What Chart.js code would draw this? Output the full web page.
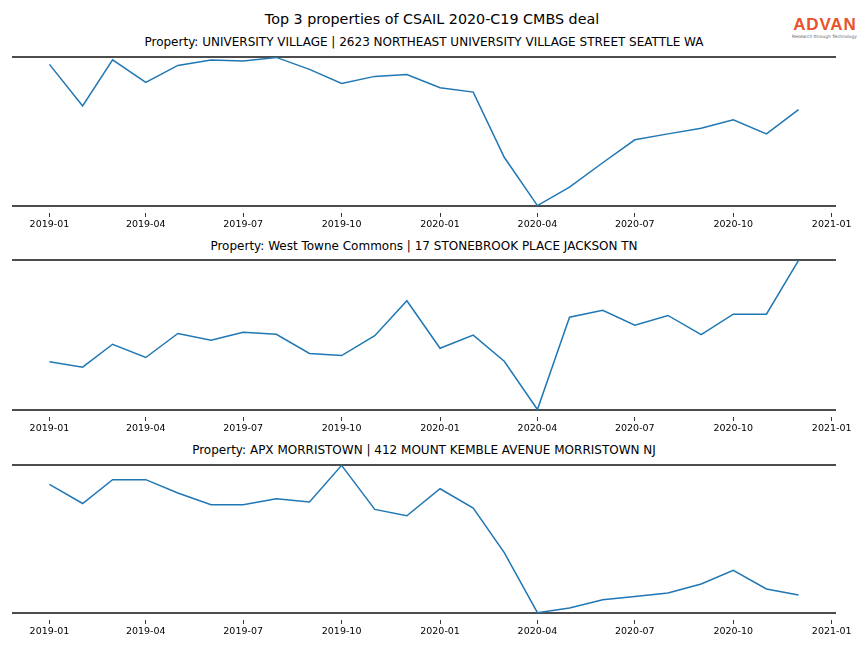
<!DOCTYPE html>
<html>
<head>
<meta charset="utf-8">
<script src="https://cdn.jsdelivr.net/npm/chart.js@4.4.0/dist/chart.umd.min.js"></script>
<style>
body { margin: 0; width: 864px; height: 648px; background: #fff; position: relative; overflow: hidden; font-family: "DejaVu Sans", sans-serif; color: #000; }
.txt { position: absolute; white-space: nowrap; transform: translate(-50%, -50%); }
canvas { position: absolute; left: 0; }
#logo { position: absolute; left: 790px; top: 16px; width: 69px; text-align: center; }
#logo .brand { font-family: "Liberation Sans", sans-serif; font-weight: bold; font-size: 17px; line-height: 18px; color: #e8542a; letter-spacing: 0.8px; margin-right: -0.8px; }
#logo .tag { font-size: 4.4px; line-height: 6px; color: #666; }
</style>
</head>
<body>
<div class="txt" style="left:432px; top:19px; font-size:14.3px;">Top 3 properties of CSAIL 2020-C19 CMBS deal</div>
<div class="txt" style="left:424px; top:42px; font-size:12px;">Property: UNIVERSITY VILLAGE | 2623 NORTHEAST UNIVERSITY VILLAGE STREET SEATTLE WA</div>
<div class="txt" style="left:424px; top:246px; font-size:12px;">Property: West Towne Commons | 17 STONEBROOK PLACE JACKSON TN</div>
<div class="txt" style="left:424px; top:450px; font-size:12px;">Property: APX MORRISTOWN | 412 MOUNT KEMBLE AVENUE MORRISTOWN NJ</div>
<div id="logo"><div class="brand">ADVAN</div><div class="tag">Research through Technology</div></div>

<canvas id="panel1" width="864" height="187" style="top:50px"></canvas>
<canvas id="panel2" width="864" height="188" style="top:253px"></canvas>
<canvas id="panel3" width="864" height="186" style="top:458px"></canvas>

<script>
const months = ['2019-01', '2019-02', '2019-03', '2019-04', '2019-05', '2019-06',
    '2019-07', '2019-08', '2019-09', '2019-10', '2019-11', '2019-12',
    '2020-01', '2020-02', '2020-03', '2020-04', '2020-05', '2020-06',
    '2020-07', '2020-08', '2020-09', '2020-10', '2020-11', '2020-12'];

const villageValues = [95.3, 67.2, 98.4, 83.1, 94.6, 98.2, 97.5, 100, 91.9, 82.4, 87.2, 88.5,
    79.5, 76.6, 32.6, 0, 12.4, 28.9, 44.4, 48.4, 52.2, 57.9, 48.4, 64.7];

const westTowneValues = [32.0, 28.4, 43.8, 34.9, 51.0, 46.5, 51.9, 50.5, 37.6, 36.2, 49.5, 73.0,
    41.1, 49.9, 32.4, 0, 61.9, 66.6, 56.6, 63.1, 50.3, 64.0, 64.0, 100];

const morristownValues = [87.1, 74.1, 90.3, 90.3, 81.2, 73.3, 73.3, 77.3, 75.1, 100, 70.1, 65.8,
    84.1, 71.0, 40.8, 0, 3.2, 8.8, 10.9, 13.4, 19.5, 28.8, 16.1, 12.0];

const tickLabels = ['2019-01', '2019-04', '2019-07', '2019-10', '2020-01',
    '2020-04', '2020-07', '2020-10', '2021-01'];

const toTime = (label) => {
    const [y, m] = label.split('-').map(Number);
    return Date.UTC(y, m - 1, 1);
};

const firstTime = toTime(months[0]);
const lastTime = toTime(months[months.length - 1]);
const xMin = firstTime - (lastTime - firstTime) * 0.05;
const xMax = lastTime + (lastTime - firstTime) * 0.05;

const makePanel = (id, values) => {
    const lo = Math.min(...values);
    const hi = Math.max(...values);
    const pad = (hi - lo) * 0.05;
    new Chart(document.getElementById(id), {
        type: 'line',
        data: {
            datasets: [{
                data: months.map((m, i) => ({x: toTime(m), y: values[i]})),
                borderColor: '#1f77b4',
                borderWidth: 1.5,
                pointRadius: 0,
                tension: 0,
                fill: false
            }]
        },
        options: {
            responsive: false,
            animation: false,
            layout: { padding: { left: 12, right: 28, top: 0, bottom: 0 } },
            plugins: {
                legend: { display: false },
                tooltip: { enabled: false }
            },
            scales: {
                x: {
                    type: 'linear',
                    min: xMin,
                    max: xMax,
                    afterBuildTicks: (scale) => {
                        scale.ticks = tickLabels.map(t => ({value: toTime(t)}));
                    },
                    afterFit: (scale) => { scale.height = 24; },
                    ticks: {
                        autoSkip: false,
                        maxRotation: 0,
                        padding: 2,
                        color: '#000',
                        font: { family: 'DejaVu Sans', size: 9.5 },
                        callback: (value, index) => tickLabels[index]
                    },
                    grid: { drawOnChartArea: false, tickLength: 4, color: '#000', lineWidth: 0.8 },
                    border: { display: false }
                },
                y: {
                    min: lo - pad,
                    max: hi + pad,
                    afterBuildTicks: (scale) => {
                        scale.ticks = [{value: lo}, {value: hi}];
                    },
                    ticks: { display: false },
                    grid: { drawTicks: false, color: '#4d4d4d', lineWidth: 2 },
                    border: { display: false }
                }
            }
        }
    });
};

makePanel('panel1', villageValues);
makePanel('panel2', westTowneValues);
makePanel('panel3', morristownValues);
</script>
</body>
</html>
